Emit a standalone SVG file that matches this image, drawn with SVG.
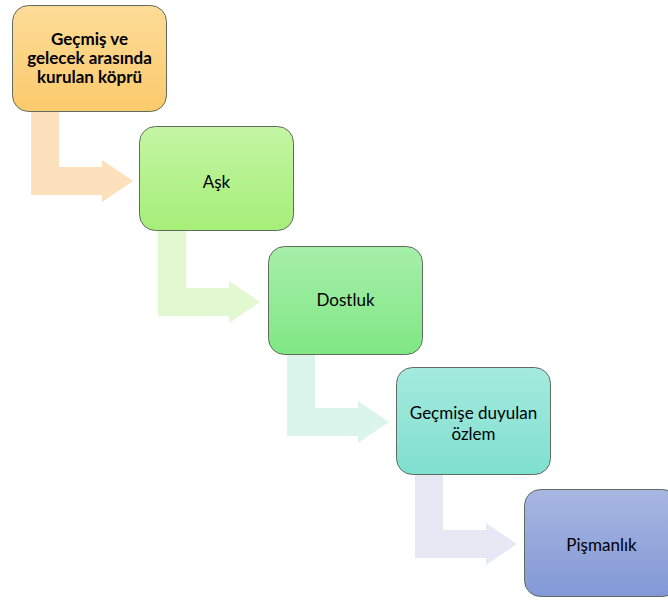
<svg xmlns="http://www.w3.org/2000/svg" width="668" height="603" viewBox="0 0 668 603">
<defs>
<linearGradient id="g1" x1="0" y1="0" x2="0" y2="1"><stop offset="0" stop-color="#fddc98"/><stop offset="1" stop-color="#fbca6c"/></linearGradient>
<linearGradient id="g2" x1="0" y1="0" x2="0" y2="1"><stop offset="0" stop-color="#c4f5a4"/><stop offset="1" stop-color="#a6ef78"/></linearGradient>
<linearGradient id="g3" x1="0" y1="0" x2="0" y2="1"><stop offset="0" stop-color="#a6efaa"/><stop offset="1" stop-color="#80e784"/></linearGradient>
<linearGradient id="g4" x1="0" y1="0" x2="0" y2="1"><stop offset="0" stop-color="#a5eadf"/><stop offset="1" stop-color="#7fe0cf"/></linearGradient>
<linearGradient id="g5" x1="0" y1="0" x2="0" y2="1"><stop offset="0" stop-color="#a8b6e1"/><stop offset="1" stop-color="#8299d6"/></linearGradient>
</defs>
<style>
.box{stroke:#5f6b5f;stroke-width:1}
.t{font-family:Lato,"Liberation Sans",sans-serif;font-size:17px;fill:#000;text-anchor:middle}
.b{font-weight:bold}
</style>
<g id="connectors">
<path fill="#fde0bc" d="M31,111 H59 V167 H102 V160 L133,181 L102,202 V195 H31 Z"/>
<path fill="#e1f8d1" d="M158,231 H186 V288 H229 V281 L260,302 L229,323 V316 H158 Z"/>
<path fill="#dcf5ec" d="M287,354 H315 V408 H358 V401 L389,422 L358,443 V436 H287 Z"/>
<path fill="#e6e9f3" d="M415,475 H443 V530 H486 V523 L517,544 L486,565 V558 H415 Z"/>
</g>
<g id="n1">
<rect class="box" x="12.5" y="5.5" width="154" height="106" rx="16" fill="url(#g1)"/>
<text class="t b" x="89.5" y="45">Geçmiş ve</text>
<text class="t b" x="89.5" y="64">gelecek arasında</text>
<text class="t b" x="89.5" y="83">kurulan köprü</text>
</g>
<g id="n2">
<rect class="box" x="139.5" y="126.5" width="154" height="104" rx="16" fill="url(#g2)"/>
<text class="t" x="216.5" y="188">Aşk</text>
</g>
<g id="n3">
<rect class="box" x="268.5" y="246.5" width="154" height="108" rx="16" fill="url(#g3)"/>
<text class="t" x="345.5" y="306">Dostluk</text>
</g>
<g id="n4">
<rect class="box" x="396.5" y="367.5" width="154" height="107" rx="16" fill="url(#g4)"/>
<text class="t" x="473.5" y="419">Geçmişe duyulan</text>
<text class="t" x="473.5" y="440">özlem</text>
</g>
<g id="n5">
<rect class="box" x="524.5" y="489.5" width="154" height="107" rx="16" fill="url(#g5)"/>
<text class="t" x="601.5" y="551">Pişmanlık</text>
</g>
</svg>
